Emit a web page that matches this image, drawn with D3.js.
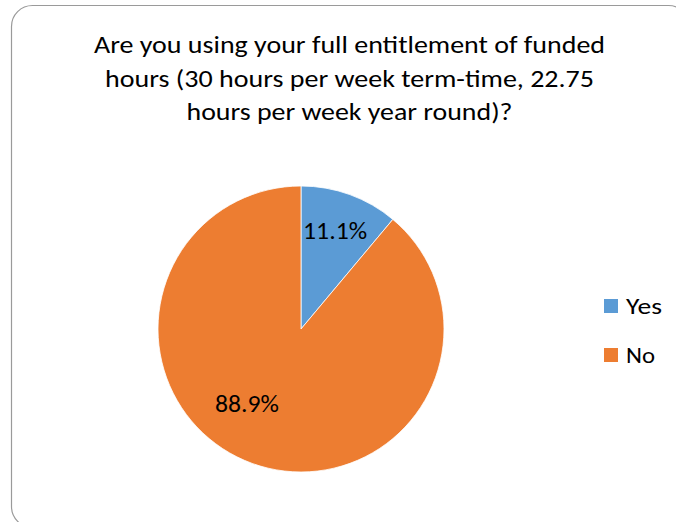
<!DOCTYPE html>
<html>
<head>
<meta charset="utf-8">
<script src="https://cdn.jsdelivr.net/npm/d3@7"></script>
<style>
  html, body { margin: 0; padding: 0; background: #fff; }
  svg { display: block; }
  text { font-family: Carlito, Calibri, Lato, "Open Sans", sans-serif; fill: #000; }
</style>
</head>
<body>
<svg id="chart" width="676" height="522"></svg>
<script>
const titleLines = [
  "Are you using your full entitlement of funded",
  "hours (30 hours per week term-time, 22.75",
  "hours per week year round)?"
];
const categories = ["Yes", "No"];
const values = [11.1, 88.9];
const colors = ["#5B9BD5", "#ED7D31"];

const svg = d3.select("#chart");

// frame
svg.append("rect")
  .attr("x", 11.5).attr("y", 5.5)
  .attr("width", 678).attr("height", 522)
  .attr("rx", 21).attr("ry", 21)
  .attr("fill", "#fff")
  .attr("stroke", "#9a9a9a")
  .attr("stroke-width", 1.2);

// title
const titleWidths = [511, 489, 326];
const titleBase = [53, 87, 120];
titleLines.forEach((t, i) => {
  svg.append("text")
    .attr("x", 349.5).attr("y", titleBase[i])
    .attr("text-anchor", "middle")
    .attr("font-size", 24)
    .attr("textLength", titleWidths[i])
    .attr("lengthAdjust", "spacingAndGlyphs")
    .text(t);
});

// pie
const cx = 301, cy = 329, R = 143;
const pie = d3.pie().sort(null).value(d => d)(values);
const arc = d3.arc().innerRadius(0).outerRadius(R);
const g = svg.append("g").attr("transform", `translate(${cx},${cy})`);
g.selectAll("path").data(pie).join("path")
  .attr("d", arc)
  .attr("fill", (d, i) => colors[i])
  .attr("stroke", "#fff")
  .attr("stroke-width", 0.8);

// labels
const labelRadius = [104, 92];
const labelAngleOffset = [-0.015, 0.28];
const labelWidths = [64, 64];
g.selectAll("text.lbl").data(pie).join("text")
  .attr("class", "lbl")
  .each(function(d, i) {
    const a = (d.startAngle + d.endAngle) / 2 + labelAngleOffset[i];
    const [x, y] = d3.pointRadial(a, labelRadius[i]);
    d3.select(this).attr("x", x).attr("y", y + 8.5);
  })
  .attr("text-anchor", "middle")
  .attr("font-size", 24)
  .attr("textLength", (d, i) => labelWidths[i])
  .attr("lengthAdjust", "spacingAndGlyphs")
  .text(d => d.data.toFixed(1) + "%");

// legend
const ly = d3.scalePoint().domain(categories).range([306, 355]);
const legendTextWidths = [36, 29];
const leg = svg.append("g");
categories.forEach((c, i) => {
  leg.append("rect")
    .attr("x", 604).attr("y", ly(c) - 7)
    .attr("width", 14).attr("height", 14)
    .attr("fill", colors[i]);
  leg.append("text")
    .attr("x", 626).attr("y", ly(c) + 8)
    .attr("font-size", 22)
    .attr("textLength", legendTextWidths[i])
    .attr("lengthAdjust", "spacingAndGlyphs")
    .text(c);
});
</script>
</body>
</html>
